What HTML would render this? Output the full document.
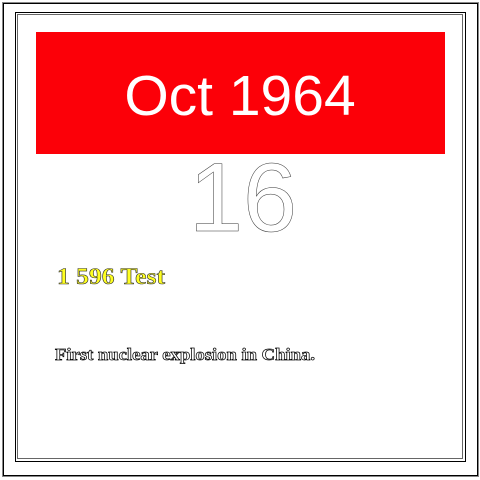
<!DOCTYPE html>
<html><head><meta charset="utf-8"><style>
html,body{margin:0;padding:0;background:#fff;}
body{width:480px;height:480px;position:relative;overflow:hidden;}
svg{position:absolute;left:0;top:0;}
</style></head><body>
<svg width="480" height="480">
  <rect x="3.5" y="3.5" width="474" height="472" fill="none" stroke="#000" stroke-width="1"/>
  <rect x="2.5" y="2.5" width="476" height="474" fill="none" stroke="#888" stroke-width="1"/>
  <rect x="15.5" y="12.5" width="450" height="449" fill="none" stroke="#000" stroke-width="1"/>
  <rect x="17.5" y="14.5" width="445" height="444" fill="none" stroke="#666" stroke-width="1"/>
  <rect x="36" y="32" width="409" height="122" fill="#fc0008"/>
  <text x="240" y="115" text-anchor="middle" font-family="Liberation Sans, sans-serif" font-size="57" fill="#fff">Oct 1964</text>
  <text x="243" y="231" text-anchor="middle" font-family="Liberation Sans, sans-serif" font-size="97" fill="#fff" stroke="#333" stroke-width="0.5">16</text>
  <text x="57" y="284" font-family="Liberation Serif, serif" font-weight="bold" font-size="23" textLength="108" lengthAdjust="spacingAndGlyphs" fill="#ffff20" stroke="#333" stroke-width="0.6">1 596 Test</text>
  <text x="55" y="360" font-family="Liberation Serif, serif" font-weight="bold" font-size="17" textLength="260" lengthAdjust="spacingAndGlyphs" fill="#fff" stroke="#000" stroke-width="0.7">First nuclear explosion in China.</text>
</svg>
</body></html>
